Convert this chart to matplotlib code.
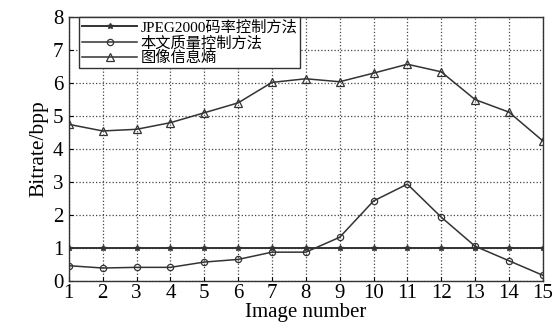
import matplotlib
matplotlib.use('Agg')
import matplotlib.pyplot as plt

plt.rcParams['font.family'] = ['Liberation Serif', 'Noto Sans CJK SC']

images = list(range(1, 16))
jpeg2000 = [1.0] * 15
quality = [0.47, 0.40, 0.42, 0.42, 0.58, 0.66, 0.88, 0.88, 1.33, 2.43, 2.94, 1.94, 1.06, 0.62, 0.18]
entropy = [4.75, 4.55, 4.60, 4.80, 5.10, 5.40, 6.02, 6.13, 6.04, 6.30, 6.57, 6.34, 5.50, 5.12, 4.25]
labels = ['JPEG2000码率控制方法', '本文质量控制方法', '图像信息熵']

fig = plt.figure(figsize=(5.55, 3.27), dpi=100)
ax = fig.add_axes([0.124, 0.14, 0.854, 0.808])

LC = '#333333'
ax.plot(images, jpeg2000, color=LC, lw=1.4, marker='*', ms=4, label=labels[0])
ax.plot(images, quality, color=LC, lw=1.1, marker='o', ms=4.5, mfc='none', mew=0.9, label=labels[1])
ax.plot(images, entropy, color=LC, lw=1.1, marker='^', ms=6, mfc='none', mew=0.9, label=labels[2])

ax.set_xlim(1, 15)
ax.set_ylim(0, 8)
ax.set_xticks(images)
ax.set_yticks(range(0, 9))
ax.tick_params(direction='in', labelsize=15, length=3)
ax.tick_params(axis='y', pad=4)
ax.tick_params(axis='x', pad=2)
ax.grid(True, linestyle=':', color='#444444', linewidth=0.9)
for s in ax.spines.values():
    s.set_color('#333333')
    s.set_linewidth(1.0)

ax.set_xlabel('Image number', fontsize=15, labelpad=0)
ax.set_ylabel('Bitrate/bpp', fontsize=15.5, labelpad=3)

leg = ax.legend(loc='upper left', fontsize=11, frameon=True, fancybox=False,
                edgecolor='#333333', framealpha=1, borderpad=0.2,
                labelspacing=0.05, handlelength=3.6, handletextpad=0.2,
                borderaxespad=0.0, bbox_to_anchor=(0.022, 1.0))
leg.get_frame().set_linewidth(1.0)

fig.savefig('out.png', dpi=100)
